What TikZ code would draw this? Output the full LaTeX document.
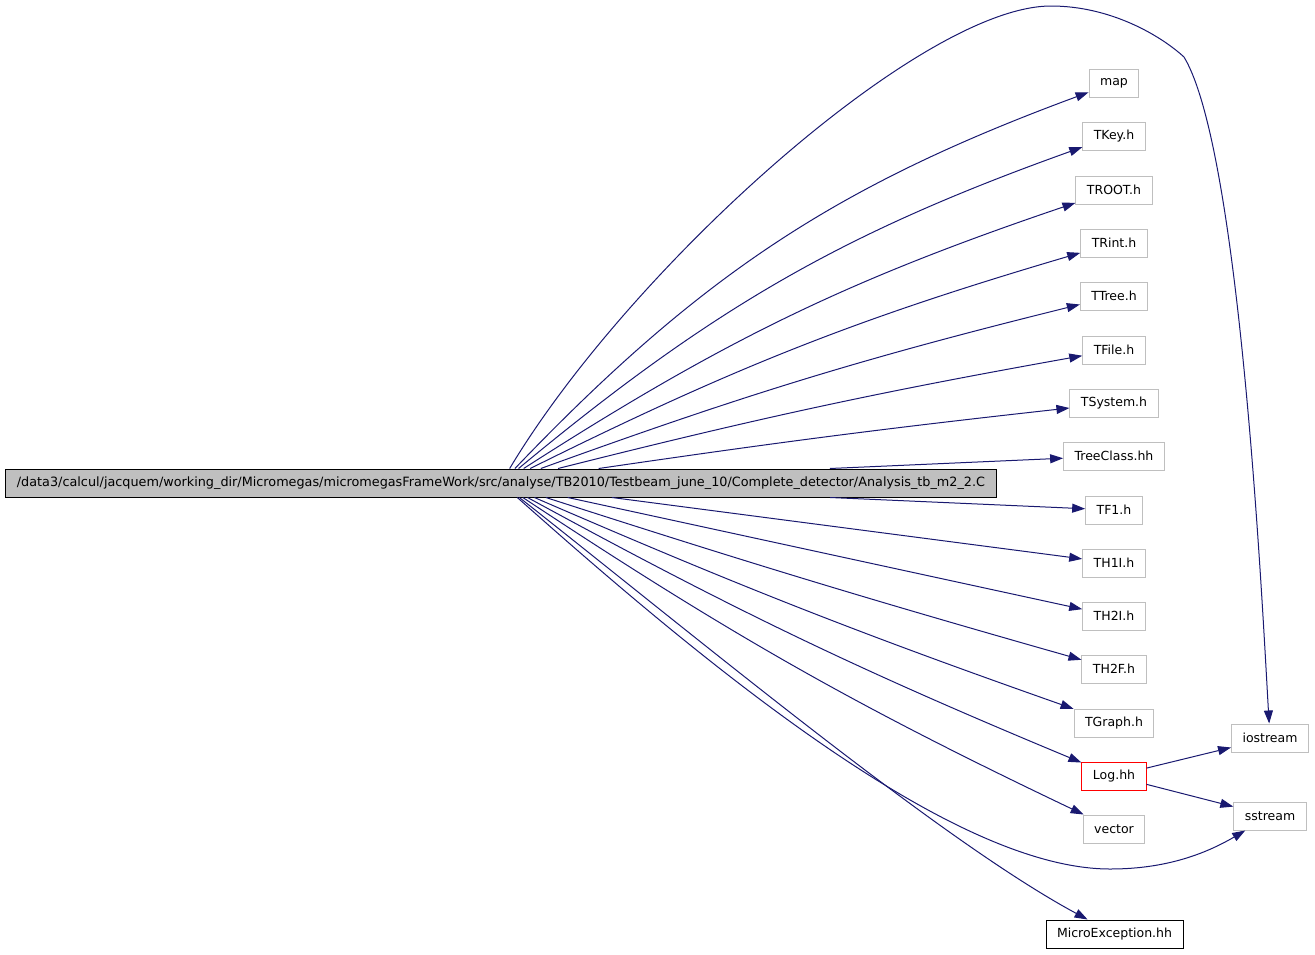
\documentclass[tikz,border=0pt]{standalone}
\usepackage{fontspec}
\setmainfont{DejaVu Sans}
\usetikzlibrary{arrows.meta}
\definecolor{edgeblue}{HTML}{191970}
\definecolor{boxgray}{HTML}{BFBFBF}

\begin{document}
\begin{tikzpicture}[>={Triangle[length=13pt,width=9pt]},x=1pt,y=1pt,
		every node/.style={font=\fontsize{12.5}{15}\selectfont,inner xsep=11pt,inner ysep=0pt,minimum height=28pt,line width=1pt},
		file/.style={draw=boxgray,fill=white},
		edge/.style={->,draw=edgeblue,line width=1pt}]
		\useasboundingbox (0,0) rectangle (1315,-954);
		
		\node[draw=black,fill=boxgray,font=\fontsize{12.8}{15}\selectfont] (main) at (501,-483) {/data3/calcul/jacquem/working\_dir/Micromegas/micromegasFrameWork/src/analyse/TB2010/Testbeam\_june\_10/Complete\_detector/Analysis\_tb\_m2\_2.C};
		
		\node[file] (map) at (1114,-83) {map};
		\node[file] (tkey) at (1114,-136) {TKey.h};
		\node[file] (troot) at (1114,-190) {TROOT.h};
		\node[file] (trint) at (1114,-243) {TRint.h};
		\node[file] (ttree) at (1114,-296) {TTree.h};
		\node[file] (tfile) at (1114,-350) {TFile.h};
		\node[file] (tsystem) at (1114,-403) {TSystem.h};
		\node[file] (treeclass) at (1114,-456) {TreeClass.hh};
		\node[file] (tfone) at (1114,-510) {TF1.h};
		\node[file] (thonei) at (1114,-563) {TH1I.h};
		\node[file] (thtwoi) at (1114,-616) {TH2I.h};
		\node[file] (thtwof) at (1114,-669) {TH2F.h};
		\node[file] (tgraph) at (1114,-723) {TGraph.h};
		\node[file,draw=red] (loghh) at (1114,-776) {Log.hh};
		\node[file] (vector) at (1114,-829) {vector};
		\node[draw=black,fill=white] (microexc) at (1114.5,-934) {MicroException.hh};
		\node[file] (iostream) at (1270,-738) {iostream};
		\node[file] (sstream) at (1270,-816) {sstream};
		
		\draw[edge] (main) .. controls (629,-269) and (921,-6) .. (1051,-6) .. controls (1110,-6) and (1160,-35) .. (1184,-57) .. controls (1240,-150) and (1262,-600) .. (iostream);
		\draw[edge] (main) to[bend left=13] (map);
		\draw[edge] (main) to[bend left=10] (tkey);
		\draw[edge] (main) to[bend left=7] (troot);
		\draw[edge] (main) to[bend left=5] (trint);
		\draw[edge] (main) to[bend left=3] (ttree);
		\draw[edge] (main) to[bend left=2] (tfile);
		\draw[edge] (main) to[bend left=1] (tsystem);
		\draw[edge] (main) -- (treeclass);
		\draw[edge] (main) -- (tfone);
		\draw[edge] (main) -- (thonei);
		\draw[edge] (main) -- (thtwoi);
		\draw[edge] (main) to[bend right=1] (thtwof);
		\draw[edge] (main) to[bend right=2] (tgraph);
		\draw[edge] (main) to[bend right=3] (loghh);
		\draw[edge] (main) to[bend right=4] (vector);
		\draw[edge] (main) .. controls (700,-660) and (950,-869) .. (1110,-869) .. controls (1160,-869) and (1200,-857) .. (sstream);
		\draw[edge] (main) .. controls (700,-640) and (940,-840) .. (microexc);
		
		\draw[edge] (loghh) -- (iostream);
		\draw[edge] (loghh) -- (sstream);
	\end{tikzpicture}
\end{document}
